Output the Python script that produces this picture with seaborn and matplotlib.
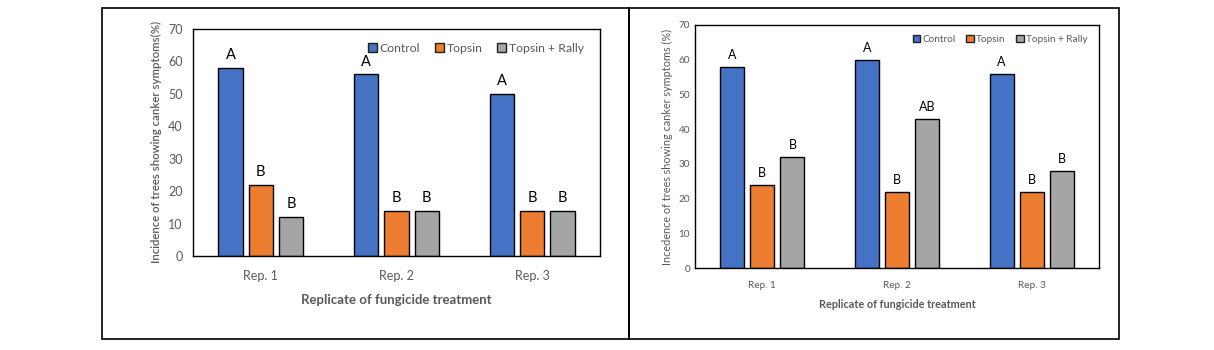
import matplotlib
matplotlib.use("Agg")
import matplotlib.pyplot as plt
from matplotlib.patches import Patch, Rectangle
import seaborn as sns
import pandas as pd

# ---- data ----
reps = ["Rep. 1", "Rep. 2", "Rep. 3"]
treatments = ["Control", "Topsin", "Topsin + Rally"]

left_control = [58, 56, 50]
left_topsin = [22, 14, 14]
left_rally = [12, 14, 14]
left_letters_control = ["A", "A", "A"]
left_letters_topsin = ["B", "B", "B"]
left_letters_rally = ["B", "B", "B"]

right_control = [58, 60, 56]
right_topsin = [24, 22, 22]
right_rally = [32, 43, 28]
right_letters_control = ["A", "A", "A"]
right_letters_topsin = ["B", "B", "B"]
right_letters_rally = ["B", "AB", "B"]

yticks = [0, 10, 20, 30, 40, 50, 60, 70]
colors = ["#4472C4", "#ED7D31", "#A5A5A5"]
grey = "#595959"

sns.set_theme(style="white")
plt.rcParams["font.family"] = ["Lato", "DejaVu Sans"]


def make_df(c, t, r):
    rows = []
    for vals, tr in zip([c, t, r], treatments):
        for rep, v in zip(reps, vals):
            rows.append({"rep": rep, "treatment": tr, "value": v})
    return pd.DataFrame(rows)


fig = plt.figure(figsize=(12.14, 3.5), dpi=100)
W, H = 1214, 350


def ax_at(x0, y0, x1, y1):
    return fig.add_axes([x0 / W, 1 - y1 / H, (x1 - x0) / W, (y1 - y0) / H])


def draw(ax, df, letters, tick_fs, xtick_pad, letter_fs, legend_fs, xlabel, ylabel,
         xlabel_fs, xlabel_pad, ylabel_fs, ylabel_weight, left_ticks, minor_ticks,
         legend_anchor, colspace):
    sns.barplot(data=df, x="rep", y="value", hue="treatment", hue_order=treatments,
                palette=colors, ax=ax, width=0.67, gap=0.2, edgecolor="black",
                linewidth=1.0, saturation=1, errorbar=None, legend=False)
    ax.set_xlim(-0.5, 2.5)
    ax.set_ylim(0, 70)
    ax.set_yticks(yticks)
    for cont, lets in zip(ax.containers, letters):
        for bar, lt in zip(cont, lets):
            ax.annotate(lt, (bar.get_x() + bar.get_width() / 2, bar.get_height()),
                        xytext=(0, 4), textcoords="offset points", ha="center",
                        va="bottom", fontsize=letter_fs, color="black")
    for s in ax.spines.values():
        s.set_visible(True)
        s.set_color("black")
        s.set_linewidth(1.0)
    ax.tick_params(axis="y", labelsize=tick_fs, labelcolor=grey, length=left_ticks,
                   direction="out", width=1, color="black")
    ax.tick_params(axis="x", labelsize=tick_fs, labelcolor=grey, length=0, pad=xtick_pad)
    if minor_ticks:
        ax.set_xticks([0.5, 1.5], minor=True)
        ax.tick_params(axis="x", which="minor", direction="in", length=4,
                       color="black", width=1)
    ax.set_xlabel(xlabel, fontsize=xlabel_fs, fontweight="bold", color=grey,
                  labelpad=xlabel_pad)
    ax.set_ylabel(ylabel, fontsize=ylabel_fs, fontweight=ylabel_weight, color=grey)
    handles = [Patch(facecolor=c, edgecolor="#1f1f1f", linewidth=1.0, label=t)
               for c, t in zip(colors, treatments)]
    leg = ax.legend(handles=handles, ncol=3, frameon=False, loc="center",
                    bbox_to_anchor=legend_anchor, fontsize=legend_fs,
                    handlelength=0.75, handleheight=0.75, handletextpad=0.2,
                    columnspacing=colspace, borderaxespad=0)
    for t in leg.get_texts():
        t.set_color(grey)


# left panel
axL = ax_at(193, 28.7, 600, 256)
draw(axL, make_df(left_control, left_topsin, left_rally),
     [left_letters_control, left_letters_topsin, left_letters_rally],
     tick_fs=9, xtick_pad=10, letter_fs=10.5, legend_fs=8.8,
     xlabel="Replicate of fungicide treatment",
     ylabel="Incidence of trees showing canker symptoms(%)",
     xlabel_fs=9.5, xlabel_pad=9, ylabel_fs=8.2, ylabel_weight="semibold",
     left_ticks=4, minor_ticks=True, legend_anchor=(0.695, 0.915), colspace=1.2)

# right panel
axR = ax_at(695, 25, 1099, 268)
draw(axR, make_df(right_control, right_topsin, right_rally),
     [right_letters_control, right_letters_topsin, right_letters_rally],
     tick_fs=7.2, xtick_pad=9, letter_fs=9, legend_fs=7.2,
     xlabel="Replicate of fungicide treatment",
     ylabel="Incedence of trees showing canker symptoms (%)",
     xlabel_fs=7.8, xlabel_pad=7, ylabel_fs=7.8, ylabel_weight="normal",
     left_ticks=0, minor_ticks=False, legend_anchor=(0.755, 0.942), colspace=1.1)

# panel borders
for x0, x1 in [(101.5, 629), (629, 1118.5)]:
    fig.add_artist(Rectangle((x0 / W, 1 - 339 / H), (x1 - x0) / W, (339 - 8) / H,
                             transform=fig.transFigure, fill=False,
                             edgecolor="black", linewidth=1.2))

fig.savefig("out.png", dpi=100)
